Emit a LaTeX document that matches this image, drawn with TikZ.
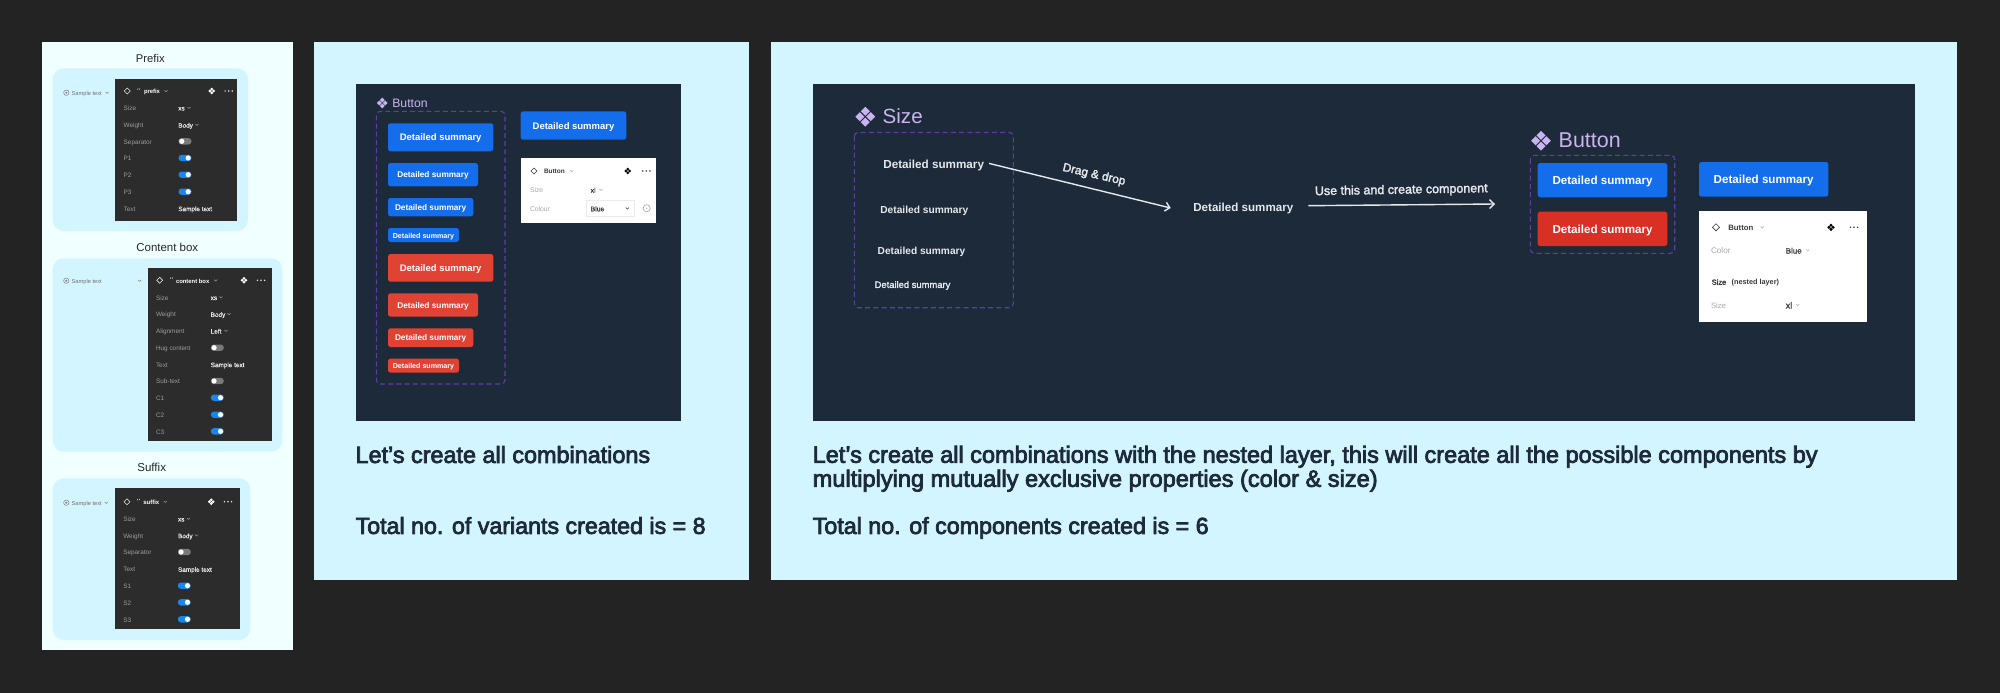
\documentclass[tikz,border=0pt]{standalone}
\usepackage{fontspec}
\usepackage{graphicx}
\usetikzlibrary{arrows.meta}
\setmainfont{Liberation Sans}
\newfontfamily\medf[FakeBold=2.2]{Liberation Sans}
\newfontfamily\capf[FakeBold=3.2]{Liberation Sans}
\newfontfamily\smallf[FakeBold=1]{Liberation Sans}
\newcommand\semif{\bfseries}
\definecolor{bgd}{HTML}{232323}
\definecolor{pale}{HTML}{F0FFFF}
\definecolor{sky}{HTML}{D3F5FF}
\definecolor{navy}{HTML}{1D2A39}
\definecolor{graph}{HTML}{2C2C2C}
\definecolor{blu}{HTML}{146DEB}
\definecolor{redA}{HTML}{E04234}
\definecolor{redB}{HTML}{D93025}
\definecolor{lav}{HTML}{C9B3F0}
\definecolor{dashc}{HTML}{5D3FA3}
\definecolor{togc}{HTML}{1A86E8}
\definecolor{togoffc}{HTML}{7A7A7A}
\definecolor{soft}{HTML}{E6E8EB}
\definecolor{lab}{HTML}{9C9C9C}
\definecolor{val}{HTML}{E4E4E4}
\definecolor{wlab}{HTML}{A8A8A8}
\definecolor{wval}{HTML}{3A3A3A}
\tikzset{
  txt/.style={inner sep=0pt,outer sep=0pt,yshift=-1.2pt},
  rowl/.style={txt,anchor=west,text=lab,font=\fontsize{6.4}{7}\selectfont,execute at begin node=\vphantom{Ag}},
  rowv/.style={txt,anchor=west,text=val,font=\smallf\fontsize{6.4}{7}\selectfont,execute at begin node=\vphantom{Ag}},
  wl/.style={txt,anchor=west,text=wlab,font=\fontsize{6.8}{8}\selectfont,execute at begin node=\vphantom{Ag}},
  wv/.style={txt,anchor=west,text=wval,font=\smallf\fontsize{6.8}{8}\selectfont,execute at begin node=\vphantom{Ag}},
  dashbox/.style={draw=dashc,line width=1.1pt,dash pattern=on 5pt off 3.2pt,rounded corners=4pt},
  flow/.style={draw=soft,line width=1.4pt,-{Straight Barb[length=4.5pt,width=9pt]}},
  chevs/.style={line width=0.5pt,line cap=round,line join=round},
}
\newcommand\fitw[2]{\resizebox{#1pt}{!}{\vphantom{Ag}#2}}
\newcommand\chv[3]{\draw[chevs,draw=#3] (#1-1.5,#2-0.7) -- (#1,#2+0.8) -- (#1+1.5,#2-0.7);}
\newcommand\dmd[4]{\draw[draw=#4,line width=0.6pt] (#1-#3,#2) -- (#1,#2-#3) -- (#1+#3,#2) -- (#1,#2+#3) -- cycle;}
\newcommand\mdots[3]{\foreach \d in {-3.6,0,3.6}{\fill[#3] (#1+\d,#2) circle (0.85);}}
\newcommand\cicon[4]{%
  \foreach \a/\b in {0/-1,0/1,-1/0,1/0}{%
    \fill[#4] ({#1+\a*0.54*#3-0.45*#3},{#2+\b*0.54*#3}) -- ({#1+\a*0.54*#3},{#2+\b*0.54*#3-0.45*#3}) -- ({#1+\a*0.54*#3+0.45*#3},{#2+\b*0.54*#3}) -- ({#1+\a*0.54*#3},{#2+\b*0.54*#3+0.45*#3}) -- cycle;}}
\newcommand\togon[2]{\fill[togc,rounded corners=3.1pt] (#1-6.5,#2-3.2) rectangle (#1+6.5,#2+3.2); \fill[white] (#1+3.2,#2) circle (2.6);}
\newcommand\togoff[2]{\fill[togoffc,rounded corners=3.1pt] (#1-6.5,#2-3.2) rectangle (#1+6.5,#2+3.2); \fill[white] (#1-3.2,#2) circle (2.6);}
\newcommand\sampleic[2]{\draw[draw=gray,line width=0.5pt] (#1,#2) circle (2.7); \fill[gray] (#1,#2) circle (1.1);}
\newcommand\tick[2]{\draw[draw=val!80,line width=0.45pt] (#1-1.4,#2-0.3) -- (#1-0.9,#2-1.6) (#1+0.4,#2-0.3) -- (#1+0.9,#2-1.6);}
\newcommand\btn[8]{% name x1 y1 x2 y2 colour textwidth text
  \fill[#6,rounded corners=2.5pt] (#2,#3) rectangle (#4,#5);
  \node[txt,text=white] (#1) at ({(#2+#4)/2},{(#3+#5)/2}) {\fitw{#7}{\semif #8}};}
\begin{document}
\begin{tikzpicture}[x=1pt,y=-1pt]
\useasboundingbox (0,0) rectangle (2000,693);
\fill[bgd] (0,0) rectangle (2000,693);
% panels
\fill[pale] (42.3,42) rectangle (293,650);
\fill[sky] (313.8,42) rectangle (749.4,579.5);
\fill[sky] (770.6,42) rectangle (1957.3,579.5);
% left column titles
\node[txt,text=black!85] (tPrefix) at (150.3,58) {\fitw{28.7}{Prefix}};
\node[txt,text=black!85] (tContent) at (167.3,247.3) {\fitw{61.7}{Content box}};
\node[txt,text=black!85] (tSuffix) at (151.7,467.7) {\fitw{28.7}{Suffix}};
% cards
\fill[sky,rounded corners=11pt] (52.7,68.3) rectangle (248,231);
\fill[sky,rounded corners=11pt] (52.7,258.3) rectangle (282.3,451.7);
\fill[sky,rounded corners=11pt] (52.7,478.3) rectangle (250.3,640);
\fill[graph] (115.3,79) rectangle (237.3,221);
\fill[graph] (148.3,268.3) rectangle (272,441.3);
\fill[graph] (115,488.3) rectangle (240.3,629.3);
% sample texts
\sampleic{66.3}{92.7}
\node[txt,anchor=west,text=gray!90!black] (sP) at (71.7,92.7) {\fitw{30}{Sample text}};
\chv{107}{92.7}{gray}
\sampleic{66.3}{280.7}
\node[txt,anchor=west,text=gray!90!black] (sC) at (71.7,280.7) {\fitw{30}{Sample text}};
\chv{139.7}{280.7}{gray}
\sampleic{66.3}{502.7}
\node[txt,anchor=west,text=gray!90!black] (sS) at (71.7,502.7) {\fitw{30}{Sample text}};
\chv{106.3}{502.7}{gray}
% prefix panel
\dmd{127.3}{91}{3}{val}
\tick{139}{90}
\node[txt,anchor=west,text=white] (hP) at (144,91) {\fitw{16}{\semif prefix}};
\chv{166}{91}{lab}
\cicon{211.7}{91}{3.4}{white}
\mdots{228.7}{91}{val}
\foreach \n/\y/\t in {a/107.7/Size,b/124.7/Weight,c/141.3/Separator,d/158/P1,e/174.7/P2,f/191.7/P3,g/208.3/Text}
  \node[rowl] (pl\n) at (123.7,\y) {\t};
\node[rowv] (pvS) at (178.3,107.7) {xs}; \chv{189}{107.7}{lab}
\node[rowv] (pvW) at (178.3,124.7) {Body}; \chv{197}{124.7}{lab}
\togoff{185}{141.3} \togon{185}{158} \togon{185}{174.7} \togon{185}{191.7}
\node[rowv] (pvT) at (178.3,208.3) {Sample text};
% content panel
\dmd{159.7}{280.3}{3}{val}
\tick{171.7}{279}
\node[txt,anchor=west,text=white] (hC) at (176,280.3) {\fitw{33.3}{\semif content box}};
\chv{215.7}{280.3}{lab}
\cicon{244}{280.3}{3.4}{white}
\mdots{261}{280.3}{val}
\foreach \n/\y/\t in {a/297.3/Size,b/314/Weight,c/330.7/Alignment,d/347.7/Hug content,e/364.3/Text,f/381/Sub-text,g/397.7/C1,h/414.7/C2,i/431.3/C3}
  \node[rowl] (cl\n) at (156,\y) {\t};
\node[rowv] (cvS) at (210.7,297.3) {xs}; \chv{221}{297.3}{lab}
\node[rowv] (cvW) at (210.7,314) {Body}; \chv{229}{314}{lab}
\node[rowv] (cvA) at (210.7,330.7) {Left}; \chv{226}{330.7}{lab}
\node[rowv] (cvT) at (210.7,364.3) {Sample text};
\togoff{217.3}{347.7} \togoff{217.3}{381} \togon{217.3}{397.7} \togon{217.3}{414.7} \togon{217.3}{431.3}
% suffix panel
\dmd{127}{501.7}{3}{val}
\tick{138.7}{500.5}
\node[txt,anchor=west,text=white] (hS) at (143.3,501.7) {\fitw{16}{\semif suffix}};
\chv{165.3}{501.7}{lab}
\cicon{211.3}{501.7}{3.4}{white}
\mdots{228}{501.7}{val}
\foreach \n/\y/\t in {a/518.7/Size,b/535.3/Weight,c/552/Separator,d/569/Text,e/585.7/S1,f/602.3/S2,g/619.3/S3}
  \node[rowl] (sl\n) at (123.3,\y) {\t};
\node[rowv] (svS) at (178,518.7) {xs}; \chv{188.5}{518.7}{lab}
\node[rowv] (svW) at (178,535.3) {Body}; \chv{196.5}{535.3}{lab}
\node[rowv] (svT) at (178,569) {Sample text};
\togoff{184.3}{552} \togon{184.3}{585.7} \togon{184.3}{602.3} \togon{184.3}{619.3}
% middle panel
\fill[navy] (355.7,84) rectangle (681.3,421);
\cicon{382.3}{103}{5.5}{lav}
\node[txt,text=lav] (mTitle) at (410,103) {\fitw{35.4}{Button}};
\draw[dashbox] (376.3,111.3) rectangle (505,384);
\btn{m1}{388}{123.3}{493.3}{151.3}{blu}{81.7}{Detailed summary}
\btn{m2}{388}{163}{478}{186.3}{blu}{71.3}{Detailed summary}
\btn{m3}{388}{198}{473.3}{216.3}{blu}{71.3}{Detailed summary}
\btn{m4}{388}{228}{459}{242}{blu}{61.3}{Detailed summary}
\btn{m5}{388}{254}{493.3}{281.7}{redA}{81.7}{Detailed summary}
\btn{m6}{388}{293.3}{478}{316.7}{redA}{71.3}{Detailed summary}
\btn{m7}{388}{328.3}{473.3}{347}{redA}{71.3}{Detailed summary}
\btn{m8}{388}{358.7}{459}{372.7}{redA}{61.3}{Detailed summary}
\btn{m9}{520.7}{111.3}{626.3}{139.7}{blu}{81.7}{Detailed summary}
\fill[white] (520.7,157.7) rectangle (656,222.7);
\dmd{534}{171}{3}{wval}
\node[txt,anchor=west,text=wval] (mh) at (544,171) {\fitw{20.7}{\semif Button}};
\chv{571.7}{171}{wlab}
\cicon{627.7}{171}{3.4}{black}
\mdots{646.3}{171}{wval}
\node[wl] (ms) at (530,189.7) {Size};
\node[wv] (msv) at (590.7,189.7) {xl}; \chv{601}{189.7}{wlab}
\node[wl] (mc) at (530,208.3) {Colour};
\draw[draw=black!8,line width=0.5pt] (586.3,200) rectangle (634.7,216.7);
\node[wv] (mcv) at (590.7,208.3) {Blue}; \chv{627.3}{208.3}{wval}
\draw[draw=wlab,line width=0.6pt] (646.7,208.3) circle (3.6); \fill[wlab] (646.7,208.3) circle (0.6);
\node[txt,anchor=west,text=navy] (cap1) at (355.6,455.7) {\fitw{294.5}{\capf Let’s create all combinations}};
\node[txt,anchor=west,text=navy] (cap2) at (355.6,526.7) {\fitw{350}{\capf Total no. of variants created is = 8}};
% right panel
\fill[navy] (812.7,84) rectangle (1915,421);
\cicon{865.3}{116.7}{10}{lav}
\node[txt,anchor=west,text=lav] (rT1) at (882.7,117) {\fitw{40}{Size}};
\draw[dashbox] (854.3,132.3) rectangle (1013.3,307.7);
\node[txt,text=soft] (s1) at (933.7,164.7) {\fitw{100.7}{\semif Detailed summary}};
\node[txt,text=soft] (s2) at (924.3,210) {\fitw{88}{\semif Detailed summary}};
\node[txt,text=soft] (s3) at (921.5,250.3) {\fitw{87.6}{\semif Detailed summary}};
\node[txt,text=soft] (s4) at (912.5,284.3) {\fitw{75.7}{\medf Detailed summary}};
\node[txt,text=soft] (sc) at (1243.3,207) {\fitw{100}{\semif Detailed summary}};
\coordinate (a1e) at (1170.7,208);
\coordinate (a2e) at (1495,204);
\draw[flow] ([xshift=5pt,yshift=2.5pt]s1.east) -- (a1e);
\draw[flow] ([xshift=15pt,yshift=2.5pt]sc.east) -- (a2e);
\node[txt,text=soft,rotate=-13] (ld) at (1094,173.7) {\fitw{64}{\medf Drag \& drop}};
\node[txt,text=soft,rotate=1] (lu) at (1401.3,189.3) {\fitw{172.7}{\medf Use this and create component}};
\cicon{1541}{140.7}{10}{lav}
\node[txt,anchor=west,text=lav] (rT2) at (1558.7,141) {\fitw{62}{Button}};
\draw[dashbox] (1530.3,155.3) rectangle (1674.7,253.3);
\btn{r1}{1537.7}{163}{1667.3}{197.3}{blu}{100}{Detailed summary}
\btn{r2}{1537.7}{211.7}{1667.3}{246}{redB}{100}{Detailed summary}
\btn{r3}{1699}{162}{1828.3}{196.7}{blu}{100}{Detailed summary}
\fill[white] (1699,210.7) rectangle (1866.7,322);
\dmd{1716}{227.3}{3.6}{wval}
\node[txt,anchor=west,text=wval] (rh) at (1728.3,227.3) {\fitw{25}{\semif Button}};
\chv{1762.3}{227.3}{wlab}
\cicon{1831}{227.3}{3.8}{black}
\mdots{1854}{227.3}{wval}
\node[wl] (rc) at (1711,250.3) {\fitw{19.5}{Color}};
\node[wv] (rcv) at (1785.7,250.3) {\fitw{16}{\smallf Blue}}; \chv{1807.7}{250.3}{wlab}
\node[txt,anchor=west,text=wval] (rn1) at (1711.7,281.7) {\fitw{14.5}{\medf Size}};
\node[txt,anchor=west,text=wval] (rn2) at (1731.7,281.7) {\fitw{47.3}{\semif (nested layer)}};
\node[wl] (rs) at (1711,305) {\fitw{15}{Size}};
\node[wv] (rsv) at (1785.7,305) {\fitw{6.5}{\smallf xl}}; \chv{1797.7}{305}{wlab}
\node[txt,anchor=west,text=navy] (cap3) at (812.7,455.5) {\fitw{1005}{\capf Let’s create all combinations with the nested layer, this will create all the possible components by}};
\node[txt,anchor=west,text=navy] (cap4) at (812.7,479.5) {\fitw{565}{\capf multiplying mutually exclusive properties (color \& size)}};
\node[txt,anchor=west,text=navy] (cap5) at (812.7,526.7) {\fitw{396}{\capf Total no. of components created is = 6}};
\end{tikzpicture}
\end{document}
